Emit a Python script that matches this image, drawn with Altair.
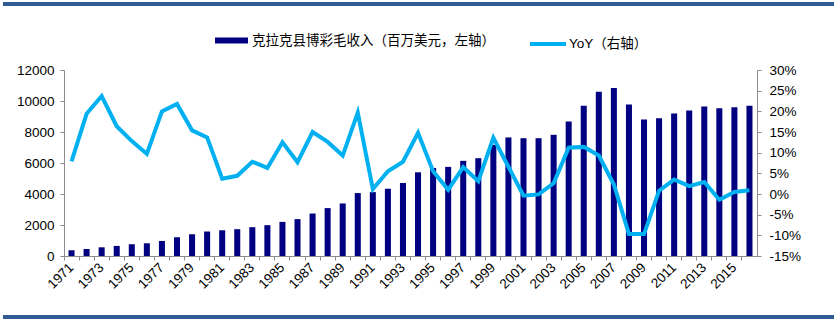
import altair as alt
import pandas as pd

years = [str(y) for y in range(1971, 2017)]
revenue = [370, 450, 560, 650, 760, 820, 970, 1210, 1400, 1580,
           1660, 1730, 1860, 1990, 2200, 2380, 2740, 3090, 3390, 4060,
           4120, 4340, 4710, 5400, 5680, 5750, 6140, 6310, 7170, 7650,
           7600, 7600, 7820, 8680, 9700, 10600, 10840, 9780, 8810, 8880,
           9200, 9380, 9650, 9530, 9590, 9700]
yoy = [7.9, 19.4, 23.7, 16.4, 12.8, 9.7, 20.0, 21.8, 15.4, 13.7,
       3.7, 4.4, 7.8, 6.3, 12.5, 7.7, 15.0, 12.6, 9.3, 19.7,
       1.2, 5.5, 7.8, 14.8, 5.5, 1.0, 6.5, 3.1, 13.6, 6.6,
       -0.4, -0.1, 2.6, 11.2, 11.4, 9.3, 2.3, -9.7, -9.7, 0.8,
       3.5, 1.9, 2.9, -1.4, 0.5, 0.9]
left_ticks = [0, 2000, 4000, 6000, 8000, 10000, 12000]
right_ticks = [-15, -10, -5, 0, 5, 10, 15, 20, 25, 30]
bar_name = "克拉克县博彩毛收入（百万美元，左轴）"
line_name = "YoY（右轴）"

df = pd.DataFrame({"year": years, "revenue": revenue, "yoy": yoy})
df["s1"] = bar_name
df["s2"] = line_name

FONT = "Liberation Sans, Arial, Noto Sans CJK SC"
NAVY = "#000080"
SKY = "#00B0F0"

x_enc = alt.X(
    "year:O",
    scale=alt.Scale(paddingInner=0, paddingOuter=0),
    axis=alt.Axis(
        title=None, labelAngle=-45, bandPosition=0,
        labelExpr="toNumber(datum.value) % 2 == 1 ? datum.label : ''",
        labelAlign="right", labelBaseline="middle",
        labelFontSize=13.5, tickSize=4, labelPadding=5,
    ),
)

bars = alt.Chart(df).mark_bar(width=alt.RelativeBandSize(0.4)).encode(
    x=x_enc,
    y=alt.Y("revenue:Q", scale=alt.Scale(domain=[0, 12000]),
            axis=alt.Axis(title=None, orient="left", values=left_ticks, format="d",
                          tickSize=4, labelPadding=6)),
    color=alt.Color("s1:N", scale=alt.Scale(domain=[bar_name], range=[NAVY]),
                    legend=alt.Legend(title=None, orient="none", legendX=151, legendY=-46,
                                      symbolType="M-1,-0.18L1,-0.18L1,0.18L-1,0.18Z",
                                      symbolSize=1089, symbolStrokeWidth=0, labelLimit=0,
                                      labelFontSize=13.5, labelFont=FONT, labelColor="#000000")),
)

line = alt.Chart(df).mark_line(strokeWidth=4, color=SKY).encode(
    x=x_enc,
    y=alt.Y("yoy:Q", scale=alt.Scale(domain=[-15, 30]),
            axis=alt.Axis(title=None, orient="right", values=right_ticks,
                          labelExpr="datum.value + '%'", tickSize=4, labelPadding=8)),
    stroke=alt.Stroke("s2:N", scale=alt.Scale(domain=[line_name], range=[SKY]),
                      legend=alt.Legend(title=None, orient="none", legendX=464, legendY=-46,
                                        symbolType="stroke", symbolSize=1296, symbolStrokeWidth=4,
                                        labelOffset=1, labelLimit=0,
                                        labelFontSize=13.5, labelFont=FONT, labelColor="#000000")),
)

top_rule = alt.Chart(df).mark_rule(color="#2F5C94", strokeWidth=3).encode(
    x=alt.value(-61), x2=alt.value(770), y=alt.value(-66)
)
bottom_rule = alt.Chart(df).mark_rule(color="#2F5C94", strokeWidth=3).encode(
    x=alt.value(-61), x2=alt.value(770), y=alt.value(247)
)

chart = alt.layer(bars, line, top_rule, bottom_rule).resolve_scale(
    y="independent", color="independent", stroke="independent"
).properties(
    width=693, height=186,
    autosize=alt.AutoSizeParams(type="none"),
    padding={"left": 64, "top": 70, "right": 80, "bottom": 66},
).configure_view(stroke=None).configure_axis(
    labelFont=FONT, labelFontSize=13.5, labelColor="#000000",
    domainColor="#8C8C8C", tickColor="#8C8C8C", grid=False,
)

chart.save("out.html", embed_options={"renderer": "svg", "actions": False})
